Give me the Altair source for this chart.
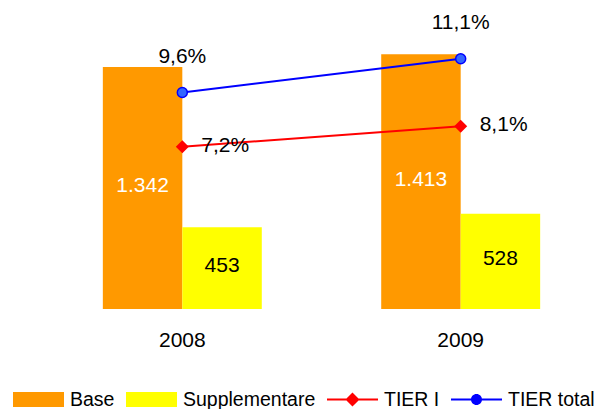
import altair as alt
import pandas as pd

# ---- data ----
years = ["2008", "2009"]
base_vals = [1342, 1413]
supp_vals = [453, 528]
tier1_vals = [7.2, 8.1]
tier_total_vals = [9.6, 11.1]

bar_series = ["Base", "Supplementare"]
line_series = ["TIER I", "TIER total"]
all_series = bar_series + line_series
bar_colors = ["#FF9900", "#FFFF00"]
line_colors = ["#FF0000", "#0000FF"]

bars_df = pd.DataFrame({
    "year": years * 2,
    "series": [bar_series[0]] * 2 + [bar_series[1]] * 2,
    "value": base_vals + supp_vals,
})
lines_df = pd.DataFrame({
    "year": years * 2,
    "series": [line_series[0]] * 2 + [line_series[1]] * 2,
    "pct": tier1_vals + tier_total_vals,
})

FONT = "Liberation Sans"
FS = 21

# legend symbol paths (unit box -1..1)
rect_path = "M-1,-0.294H1V0.294H-1Z"
line_bar = "M-1,-0.04H1V0.04H-1Z"
diamond_path = line_bar + " M0,-0.275L0.275,0L0,0.275L-0.275,0Z"
circle_path = line_bar + " M-0.216,0A0.216,0.216 0 1,1 0.216,0A0.216,0.216 0 1,1 -0.216,0Z"
legend_paths = [rect_path, rect_path, diamond_path, circle_path]

x_enc = alt.X(
    "year:N", sort=years,
    scale=alt.Scale(paddingInner=0.429, paddingOuter=0.1),
    axis=alt.Axis(title=None, domain=False, ticks=False, grid=False, labelAngle=0,
                  labelFont=FONT, labelFontSize=FS, labelColor="#000000", labelPadding=20),
)
yb_scale = alt.Scale(domain=[0, 1670], nice=False, zero=True)
yl_scale = alt.Scale(domain=[0, 13.35], nice=False, zero=True)
xoff = alt.XOffset("series:N", sort=bar_series,
                   scale=alt.Scale(domain=bar_series, paddingInner=0, paddingOuter=0))

bars = alt.Chart(bars_df).mark_bar().encode(
    x=x_enc, xOffset=xoff,
    y=alt.Y("value:Q", scale=yb_scale, axis=None),
    fill=alt.Fill("series:N", scale=alt.Scale(domain=bar_series, range=bar_colors), legend=None),
)

num_label = "replace(format(datum.value, ','), ',', '.')"
bt_base = alt.Chart(bars_df).transform_filter(alt.datum.series == "Base").transform_calculate(
    mid="datum.value / 2", label=num_label
).mark_text(font=FONT, fontSize=FS, color="#FFFFFF", dy=-2).encode(
    x=x_enc, xOffset=xoff, y=alt.Y("mid:Q", scale=yb_scale, axis=None), text="label:N"
)
bt_supp = alt.Chart(bars_df).transform_filter(alt.datum.series == "Supplementare").transform_calculate(
    mid="datum.value / 2", label=num_label
).mark_text(font=FONT, fontSize=FS, color="#000000", dy=-2).encode(
    x=x_enc, xOffset=xoff, y=alt.Y("mid:Q", scale=yb_scale, axis=None), text="label:N"
)

yl = alt.Y("pct:Q", scale=yl_scale, axis=None)
lines = alt.Chart(lines_df).mark_line(strokeWidth=2).encode(
    x=x_enc, y=yl,
    stroke=alt.Stroke("series:N", scale=alt.Scale(domain=line_series, range=line_colors), legend=None),
)
diam = alt.Chart(lines_df).transform_filter(alt.datum.series == "TIER I").mark_point(
    shape="diamond", filled=True, size=169, fill="#FF0000", stroke="#FF0000", strokeWidth=0, opacity=1
).encode(x=x_enc, y=yl)
circ = alt.Chart(lines_df).transform_filter(alt.datum.series == "TIER total").mark_point(
    shape="circle", filled=True, size=100, fill="#3366FF", stroke="#0000FF", strokeWidth=1.5, opacity=1
).encode(x=x_enc, y=yl)

pct_label = "replace(format(datum.pct, '.1f'), '.', ',') + '%'"
t1 = alt.Chart(lines_df).transform_filter(alt.datum.series == "TIER I").transform_calculate(
    label=pct_label
).mark_text(font=FONT, fontSize=FS, color="#000000", align="left", dx=19, dy=-1).encode(
    x=x_enc, y=yl, text="label:N"
)
tt = alt.Chart(lines_df).transform_filter(alt.datum.series == "TIER total").transform_calculate(
    label=pct_label
).mark_text(font=FONT, fontSize=FS, color="#000000", align="center", dy=-36).encode(
    x=x_enc, y=yl, text="label:N"
)

leg = alt.Legend(
    orient="none", legendX=-62, legendY=366, direction="horizontal", title=None,
    symbolSize=2601, symbolStrokeWidth=0, symbolOpacity=1,
    labelFont=FONT, labelFontSize=19.5, labelColor="#000000", labelOffset=6,
    columnPadding=11, padding=0, labelLimit=0,
)
legend_layer = alt.Chart(lines_df).transform_filter("false").mark_point(filled=True, opacity=1).encode(
    x=x_enc, y=yl,
    color=alt.Color("series:N", scale=alt.Scale(domain=all_series, range=bar_colors + line_colors), legend=leg),
    shape=alt.Shape("series:N", scale=alt.Scale(domain=all_series, range=legend_paths), legend=leg),
)

bar_layer = alt.layer(bars, bt_base, bt_supp)
line_layer = alt.layer(lines, diam, circ, t1, tt, legend_layer)

chart = alt.layer(bar_layer, line_layer).resolve_scale(y="independent").properties(
    width=493, height=301,
    padding={"left": 67, "top": 0, "right": 30, "bottom": 100},
    autosize=alt.AutoSizeParams(type="none"),
    background="#FFFFFF",
).configure_view(strokeWidth=0)

chart.save("out.html", embed_options={"renderer": "svg", "actions": False})
